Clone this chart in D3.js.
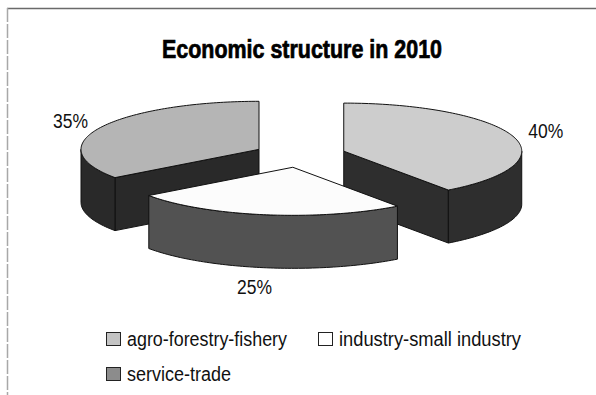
<!DOCTYPE html>
<html>
<head>
<meta charset="utf-8">
<script src="https://cdn.jsdelivr.net/npm/d3@7/dist/d3.min.js"></script>
<style>
  html, body { margin: 0; padding: 0; background: #fff; }
  svg { display: block; }
</style>
</head>
<body>
<script>
// Economic structure in 2010 — exploded 3D pie
const title = "Economic structure in 2010";
const categories = ["agro-forestry-fishery", "industry-small industry", "service-trade"];
const shares = [40, 25, 35];
const topColors = ["#cdcdcd", "#fcfcfc", "#b5b5b5"];
const sideColors = ["#2e2e2e", "#525252", "#292929"];
const swatchColors = ["#c4c4c4", "#ffffff", "#8c8c8c"];

const W = 596, H = 395;
const svg = d3.select("body").append("svg").attr("width", W).attr("height", H);

const sans = "'Liberation Sans', Arial, sans-serif";

// squeeze a text run into a narrow, condensed width
const fit = (sel, len) => sel.attr("textLength", len).attr("lengthAdjust", "spacingAndGlyphs");

// frame
svg.append("line").attr("x1", 7).attr("x2", W).attr("y1", 8.5).attr("y2", 8.5)
  .attr("stroke", "#6a6a6a").attr("stroke-width", 1.5);
svg.append("line").attr("x1", 7.5).attr("x2", 7.5).attr("y1", 8).attr("y2", H)
  .attr("stroke", "#a8a8a8").attr("stroke-width", 1.5).attr("stroke-dasharray", "14 2");

// title
fit(svg.append("text").attr("x", 162).attr("y", 58)
  .attr("font-family", sans).attr("font-weight", "bold").attr("font-size", 25)
  .attr("fill", "#000").attr("stroke", "#000").attr("stroke-width", 0.7)
  .text(title), 280);

// pie geometry
const cx = 300, cy = 155, rx = 178, tilt = 0.27, depth = 53, explode = 46;
const arcs = d3.pie().sort(null).value(d => d)(shares);

const pt = (c, a, r, dz = 0) => [c[0] + r * Math.sin(a), c[1] - r * tilt * Math.cos(a) + dz];
const sample = (a0, a1) => {
  const n = Math.max(2, Math.ceil((a1 - a0) / 0.02));
  return d3.range(n + 1).map(i => a0 + (a1 - a0) * i / n);
};
const line = d3.line();

const slices = arcs.map((d, i) => {
  const mid = (d.startAngle + d.endAngle) / 2;
  const c = [cx + explode * Math.sin(mid), cy - explode * tilt * Math.cos(mid)];
  return { d, i, mid, c };
}).sort((a, b) => a.c[1] - b.c[1]);

const g = svg.append("g").attr("stroke", "#111").attr("stroke-width", 1)
  .attr("stroke-linejoin", "round");

slices.forEach(s => {
  const { d, i, c } = s;
  const a0 = d.startAngle, a1 = d.endAngle;
  const faces = [];
  // radial cut faces that turn toward the viewer
  if (-Math.sin(a0) > 0.01) faces.push([c, pt(c, a0, rx), pt(c, a0, rx, depth), [c[0], c[1] + depth]]);
  if (Math.sin(a1) > 0.01) faces.push([c, pt(c, a1, rx), pt(c, a1, rx, depth), [c[0], c[1] + depth]]);
  faces.forEach(f => g.append("path").attr("d", line(f) + "Z").attr("fill", sideColors[i]));
  // outer curved wall (front half only)
  const lo = Math.max(a0, Math.PI / 2), hi = Math.min(a1, 3 * Math.PI / 2);
  if (hi > lo) {
    const as = sample(lo, hi);
    const poly = as.map(a => pt(c, a, rx)).concat(as.slice().reverse().map(a => pt(c, a, rx, depth)));
    g.append("path").attr("d", line(poly) + "Z").attr("fill", sideColors[i]);
  }
  // top face
  const top = [c].concat(sample(a0, a1).map(a => pt(c, a, rx)));
  g.append("path").attr("d", line(top) + "Z").attr("fill", topColors[i]);
});

// value labels
slices.forEach(s => {
  const front = Math.cos(s.mid) < 0;
  const R = rx + (front ? 70 : 34);
  const p = pt(s.c, s.mid, R, front ? depth + 1 : -2);
  fit(svg.append("text").attr("x", p[0] - 17).attr("y", p[1]).attr("dy", "0.35em")
    .attr("font-family", sans).attr("font-size", 20)
    .attr("fill", "#111").text(shares[s.i] + "%"), 35);
});

// legend
const legendPos = [[106, 332], [318, 332], [106, 367]];
const legendLen = [160, 182, 104];
const lg = svg.append("g");
categories.forEach((name, i) => {
  const [x, y] = legendPos[i];
  lg.append("rect").attr("x", x + 0.5).attr("y", y + 0.5).attr("width", 14).attr("height", 13)
    .attr("fill", swatchColors[i]).attr("stroke", "#222").attr("stroke-width", 1);
  fit(lg.append("text").attr("x", x + 21).attr("y", y + 13.5).attr("font-family", sans)
    .attr("font-size", 19.5).attr("fill", "#111").text(name), legendLen[i]);
});
</script>
</body>
</html>
